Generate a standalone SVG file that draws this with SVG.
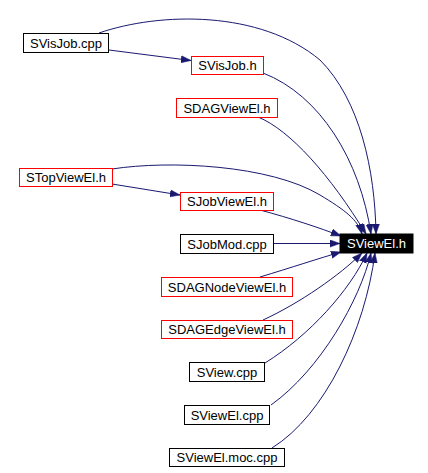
<svg xmlns="http://www.w3.org/2000/svg" width="428" height="473" viewBox="0 0 428 473">
<style>
.n rect{fill:#fff;stroke:#000;stroke-width:1}
.n.r rect{stroke:#f00}
.n text{font-family:"Liberation Sans",Arial,sans-serif;font-size:13px;fill:#000;text-anchor:middle}
#n_SViewEl_h rect{fill:#000;stroke:#000}
#n_SViewEl_h text{fill:#fff}
.e path{fill:none;stroke:#191970;stroke-width:1;marker-end:url(#ah)}
</style>
<defs>
<marker id="ah" markerUnits="userSpaceOnUse" markerWidth="10" markerHeight="8" refX="10" refY="4" orient="auto" viewBox="0 0 10 8">
<path d="M0,0.4 L10,4 L0,7.6 z" fill="#191970" stroke="#191970" stroke-width="0.5"/>
</marker>
</defs>
<rect width="428" height="473" fill="#fff"/>
<g id="edges" class="e">
<path d="M109,50 L191,60.5"/>
<path d="M99,33 C160,12 260,10 320,60 C360,100 375,170 376,234"/>
<path d="M263,73 C320,95 360,160 371,234"/>
<path d="M258,117 C290,130 330,175 366,234"/>
<path d="M112,169 C170,160 270,165 320,195 C345,210 358,220 362,234"/>
<path d="M112,184 L180,195"/>
<path d="M260,210 C290,218 320,228 341,236"/>
<path d="M273,243.5 L340,243.5"/>
<path d="M260,277 C290,268 320,258 341,252"/>
<path d="M263,320 C300,303 340,275 362,253"/>
<path d="M265,363 C310,335 350,290 367,253"/>
<path d="M271,405 C320,370 360,300 371,253"/>
<path d="M272,448 C325,415 365,330 375,253"/>
</g>
<g id="n_SVisJob_cpp" class="n"><rect x="23.5" y="33.5" width="85" height="19"/><text x="66" y="47.5">SVisJob.cpp</text></g>
<g id="n_SVisJob_h" class="n r"><rect x="191.5" y="56.5" width="72" height="18"/><text x="227.5" y="70">SVisJob.h</text></g>
<g id="n_SDAGViewEl_h" class="n r"><rect x="176.5" y="98.5" width="101" height="19"/><text x="227" y="112.5">SDAGViewEl.h</text></g>
<g id="n_STopViewEl_h" class="n r"><rect x="19.5" y="168.5" width="93" height="18"/><text x="66" y="182">STopViewEl.h</text></g>
<g id="n_SJobViewEl_h" class="n r"><rect x="180.5" y="192.5" width="93" height="18"/><text x="227" y="206">SJobViewEl.h</text></g>
<g id="n_SJobMod_cpp" class="n"><rect x="180.5" y="234.5" width="93" height="19"/><text x="227" y="248.5">SJobMod.cpp</text></g>
<g id="n_SViewEl_h" class="n"><rect x="340" y="234" width="73" height="19"/><text x="376.5" y="248">SViewEl.h</text></g>
<g id="n_SDAGNodeViewEl_h" class="n r"><rect x="161.5" y="277.5" width="131" height="19"/><text x="227" y="291.5">SDAGNodeViewEl.h</text></g>
<g id="n_SDAGEdgeViewEl_h" class="n r"><rect x="161.5" y="320.5" width="131" height="18"/><text x="227" y="334">SDAGEdgeViewEl.h</text></g>
<g id="n_SView_cpp" class="n"><rect x="189.5" y="362.5" width="75" height="19"/><text x="227" y="376.5">SView.cpp</text></g>
<g id="n_SViewEl_cpp" class="n"><rect x="184.5" y="405.5" width="85" height="19"/><text x="227" y="419.5">SViewEl.cpp</text></g>
<g id="n_SViewEl_moc_cpp" class="n"><rect x="169.5" y="448.5" width="115" height="18"/><text x="227" y="462">SViewEl.moc.cpp</text></g>
</svg>
